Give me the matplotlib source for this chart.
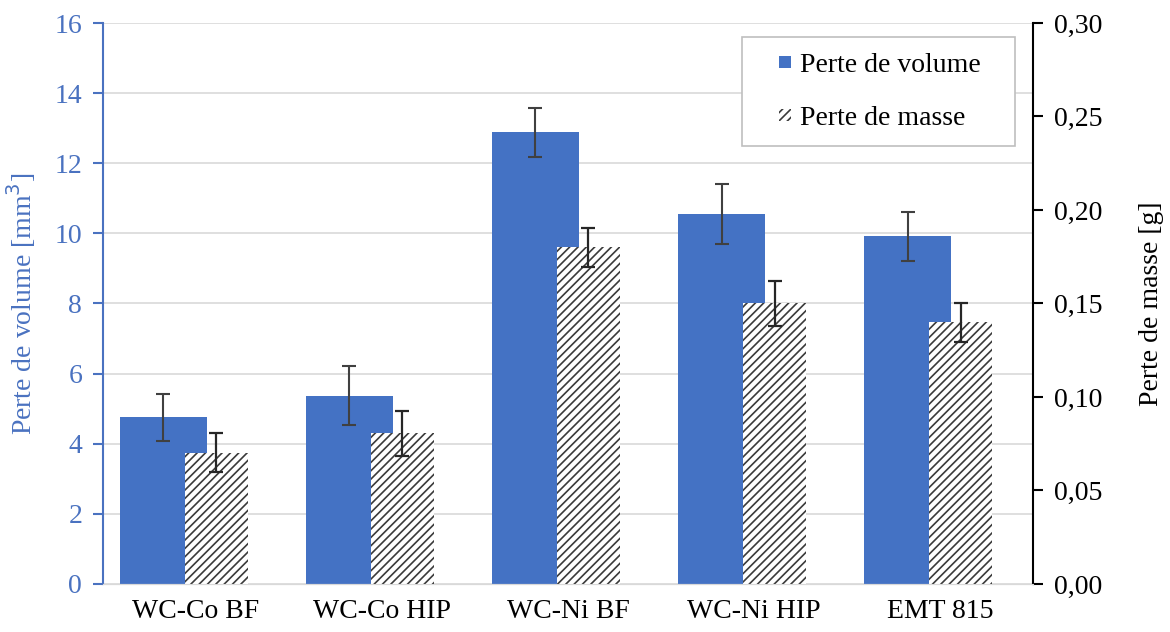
import matplotlib
matplotlib.use("Agg")
import matplotlib.pyplot as plt
import numpy as np
from matplotlib.ticker import FuncFormatter, MultipleLocator
from matplotlib.patches import Patch, Rectangle
from matplotlib.legend_handler import HandlerPatch

categories = ["WC-Co BF", "WC-Co HIP", "WC-Ni BF", "WC-Ni HIP", "EMT 815"]
volume = [4.75, 5.37, 12.88, 10.56, 9.92]
volume_err = [0.68, 0.84, 0.70, 0.85, 0.70]
mass = [0.0702, 0.0806, 0.180, 0.150, 0.140]
mass_err = [0.0103, 0.0120, 0.0103, 0.0118, 0.0104]

plt.rcParams['font.family'] = ['Liberation Serif', 'DejaVu Serif']
plt.rcParams['hatch.linewidth'] = 1.2
plt.rcParams['hatch.color'] = '#3a3a3a'

blue = '#4472C4'
tick_blue = '#4A72C0'
FS = 20

fig = plt.figure(figsize=(11.70, 6.32), dpi=100)
ax = fig.add_axes([0.088, 0.076, 0.795, 0.8876])
ax2 = ax.twinx()

x = np.arange(len(categories))
bw_v, off_v = 0.468, -0.175
bw_m, off_m = 0.339, 0.11

ax.set_axisbelow(True)
ax.grid(axis='y', color='#d9d9d9', lw=1.2)
ax.bar(x + off_v, volume, bw_v, color=blue, zorder=2)
ax.errorbar(x + off_v, volume, yerr=volume_err, fmt='none', ecolor='#404040',
            elinewidth=1.5, capsize=5, capthick=1.5, zorder=3)

ax2.bar(x + off_m, mass, bw_m, color='white', hatch='////', edgecolor='#3a3a3a',
        linewidth=0, zorder=2)
ax2.errorbar(x + off_m, mass, yerr=mass_err, fmt='none', ecolor='#262626',
             elinewidth=1.6, capsize=5, capthick=1.6, zorder=3)

ax.set_xlim(-0.5, len(categories) - 0.5)
ax.set_ylim(0, 16)
ax.yaxis.set_major_locator(MultipleLocator(2))
ax2.set_ylim(0, 0.30)
ax2.yaxis.set_major_locator(MultipleLocator(0.05))
ax2.yaxis.set_major_formatter(FuncFormatter(lambda v, p: f"{v:.2f}".replace('.', ',')))

ax.set_xticks(x)
ax.set_xticklabels(categories, fontsize=FS)
ax.tick_params(axis='x', length=0, pad=11)
ax.tick_params(axis='y', colors=tick_blue, labelsize=FS, length=7, width=1.5, direction='out', pad=8)
ax2.tick_params(axis='y', colors='black', labelsize=FS, length=7, width=1.5, direction='out', pad=8)

for a in (ax, ax2):
    a.spines['top'].set_visible(False)
    a.spines['bottom'].set_color('#d9d9d9')
ax.spines['right'].set_visible(False)
ax.spines['left'].set_color(tick_blue)
ax.spines['left'].set_linewidth(1.5)
ax2.spines['left'].set_visible(False)
ax2.spines['right'].set_color('black')
ax2.spines['right'].set_linewidth(1.5)

ax.set_ylabel("Perte de volume [mm$^3$]", color=tick_blue, fontsize=FS, labelpad=12)
ax2.set_ylabel("Perte de masse [g]", color='black', fontsize=FS, labelpad=26)


def small_square(legend, orig_handle, xdescent, ydescent, width, height, fontsize):
    s = 0.42 * fontsize
    return Rectangle((-xdescent + width - s, -ydescent + (height - s) / 2), s, s)


handles = [Patch(facecolor=blue, edgecolor='none', label='Perte de volume'),
           Patch(facecolor='white', hatch='////', edgecolor='#3a3a3a', lw=0, label='Perte de masse')]
hmap = {h: HandlerPatch(patch_func=small_square) for h in handles}
leg = ax2.legend(handles=handles, handler_map=hmap, loc='upper left',
                 bbox_to_anchor=(0.687, 0.975, 0.294, 0.0),
                 mode='expand', fontsize=FS, frameon=True, fancybox=False, framealpha=1,
                 edgecolor='#bfbfbf', handlelength=1.2, handleheight=0.7, handletextpad=0.35,
                 labelspacing=1.0, borderpad=0.55, borderaxespad=0)
leg.get_frame().set_linewidth(1.2)

fig.savefig("out.png", dpi=100)
